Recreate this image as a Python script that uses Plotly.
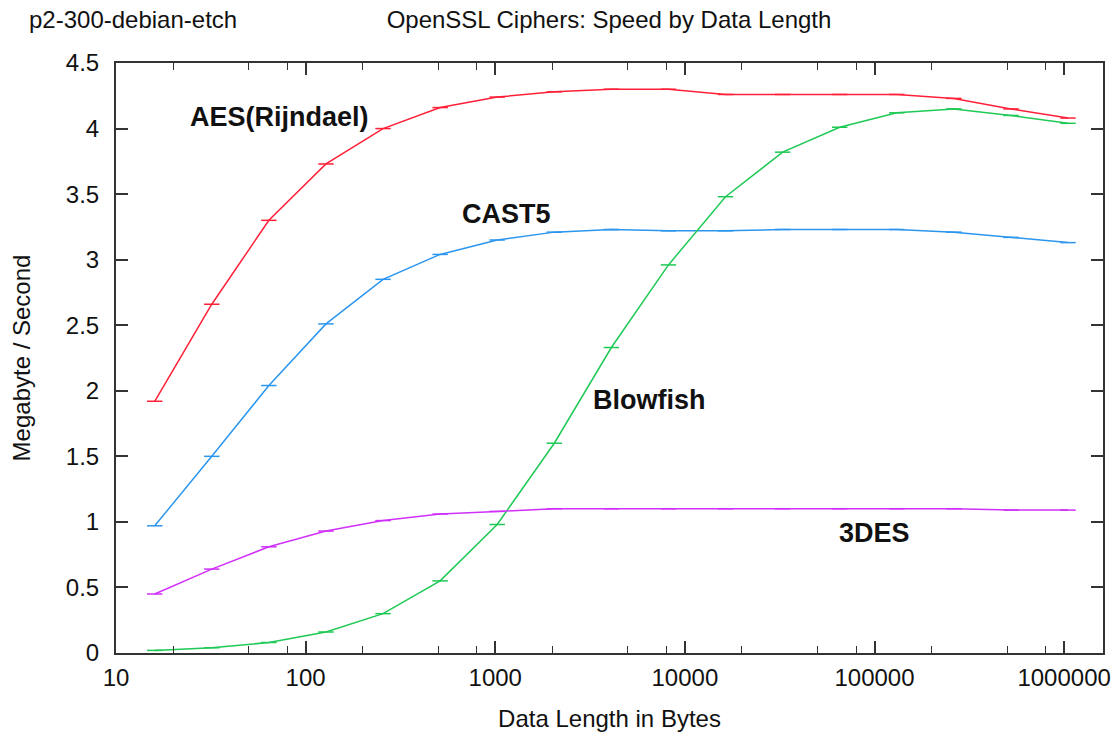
import numpy as np
import plotly.graph_objects as go

# Data
lengths = [16, 32, 64, 128, 256, 512, 1024, 2048, 4096, 8192, 16384, 32768,
           65536, 131072, 262144, 524288, 1048576]
aes = [1.92, 2.66, 3.30, 3.73, 4.00, 4.16, 4.24, 4.28, 4.30, 4.30, 4.26, 4.26,
       4.26, 4.26, 4.23, 4.15, 4.08]
cast5 = [0.97, 1.50, 2.04, 2.51, 2.85, 3.04, 3.15, 3.21, 3.23, 3.22, 3.22, 3.23,
         3.23, 3.23, 3.21, 3.17, 3.13]
blowfish = [0.02, 0.04, 0.08, 0.16, 0.30, 0.55, 0.98, 1.60, 2.33, 2.96, 3.48, 3.82,
            4.01, 4.12, 4.15, 4.10, 4.04]
des3 = [0.45, 0.64, 0.81, 0.93, 1.01, 1.06, 1.08, 1.10, 1.10, 1.10, 1.10, 1.10,
        1.10, 1.10, 1.10, 1.09, 1.09]

series_names = ["AES(Rijndael)", "CAST5", "Blowfish", "3DES"]
series_values = [aes, cast5, blowfish, des3]
series_colors = ["#ff2038", "#2c96ee", "#1fc955", "#d030fa"]

# label anchors (bytes, MB/s)
label_x = [73, 1150, 6500, 100000]
label_y = [4.09, 3.35, 1.93, 0.915]

x_tickvals = [10, 100, 1000, 10000, 100000, 1000000]
x_ticktext = ["10", "100", "1000", "10000", "100000", "1000000"]
minor_vals = [m * 10 ** k for k in range(1, 7) for m in (2, 5, 8)]

FONT = "Liberation Sans, Arial, Helvetica, sans-serif"
W, H = 1114, 735
L, R, T, B = 116, 11, 63, 82
PW, PH = W - L - R, H - T - B

fig = go.Figure()
for name, vals, col in zip(series_names, series_values, series_colors):
    fig.add_trace(go.Scatter(
        x=lengths, y=vals, mode="lines+markers", name=name,
        line=dict(color=col, width=1.5),
        marker=dict(symbol="line-ew", size=11, color=col,
                    line=dict(color=col, width=1.5)),
        showlegend=False,
    ))

for name, lx, ly in zip(series_names, label_x, label_y):
    fig.add_annotation(x=np.log10(lx), y=ly, xref="x", yref="y", text=f"<b>{name}</b>",
                       showarrow=False, font=dict(size=27, color="#111111", family=FONT))

# corner label (paper coords are relative to the plot area)
fig.add_annotation(x=(27 - L) / PW, y=1 + (T - 20) / PH, xref="paper", yref="paper",
                   text="p2-300-debian-etch", showarrow=False, xanchor="left",
                   yanchor="middle", font=dict(size=24))

fig.update_layout(
    width=W, height=H,
    margin=dict(l=L, r=R, t=T, b=B, autoexpand=False),
    paper_bgcolor="white", plot_bgcolor="white",
    font=dict(family=FONT, size=24, color="#111111"),
    title=dict(text="OpenSSL Ciphers: Speed by Data Length", x=609 / W, xanchor="center",
               y=1 - 20 / H, yanchor="middle", font=dict(size=24)),
)

fig.update_xaxes(
    type="log", range=[1, 6.205], automargin=False,
    tickvals=x_tickvals, ticktext=x_ticktext,
    ticks="inside", ticklen=12, tickwidth=1.5, tickcolor="#333333",
    showline=True, linecolor="#333333", linewidth=2, mirror="allticks",
    showgrid=False, zeroline=False, ticklabelstandoff=2,
    minor=dict(tickvals=minor_vals, ticks="inside", ticklen=7, tickwidth=1.2,
               tickcolor="#333333", showgrid=False),
    title=dict(text="Data Length in Bytes", standoff=20, font=dict(size=24)),
)
fig.update_yaxes(
    range=[0, 4.5], dtick=0.5, tick0=0, automargin=False,
    ticks="inside", ticklen=12, tickwidth=1.5, tickcolor="#333333",
    showline=True, linecolor="#333333", linewidth=2, mirror="allticks",
    showgrid=False, zeroline=False, ticklabelstandoff=10,
    title=dict(text="Megabyte / Second", standoff=28, font=dict(size=24)),
)

fig.write_html("out.html")
